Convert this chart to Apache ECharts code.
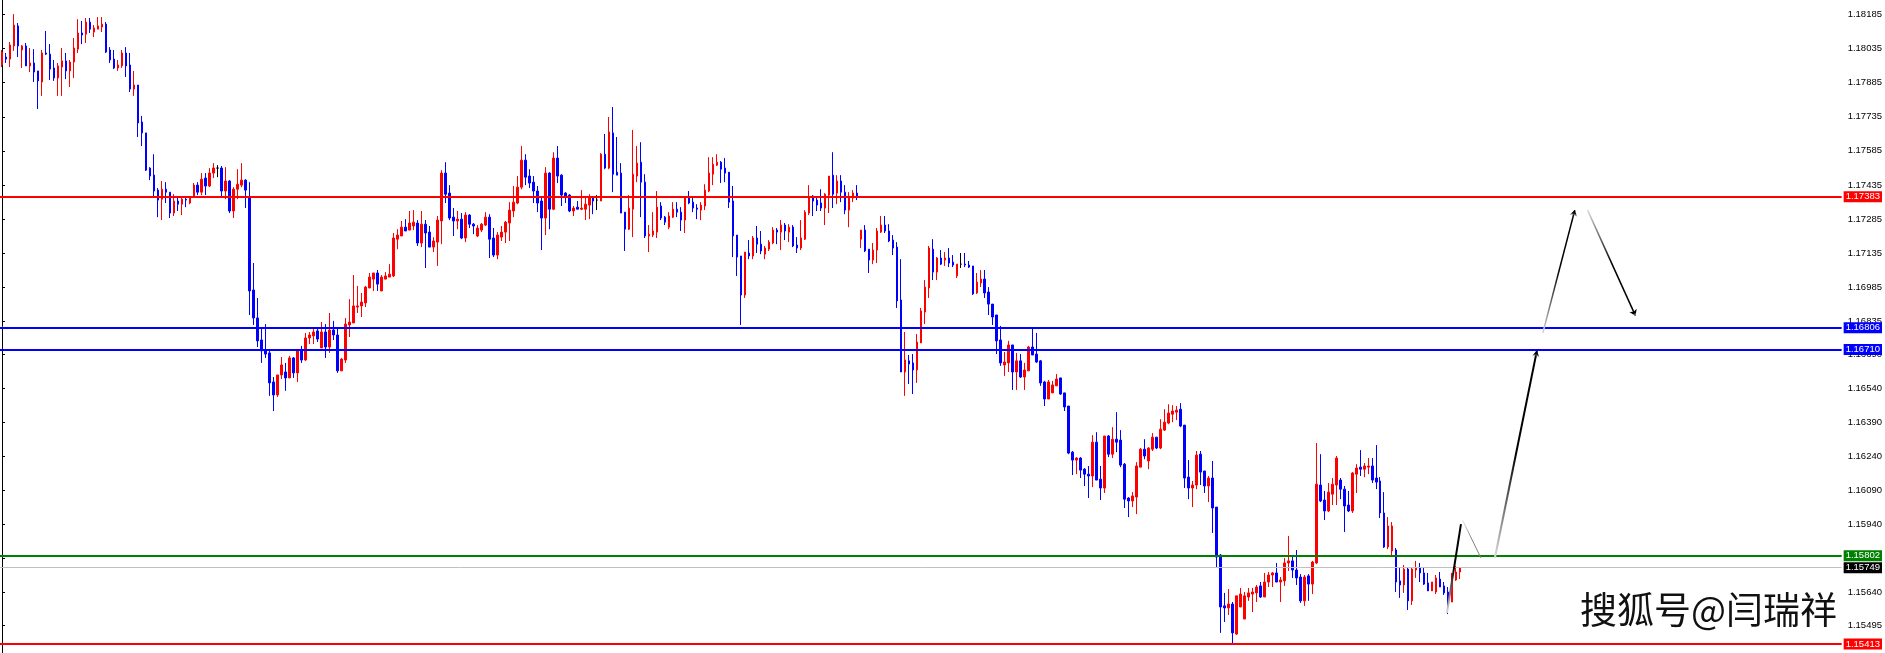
<!DOCTYPE html>
<html>
<head>
<meta charset="utf-8">
<title>EURUSD H1</title>
<script src="https://cdn.jsdelivr.net/npm/echarts@6/dist/echarts.min.js"></script>
<style>
  html, body { margin: 0; padding: 0; background: #fff; }
  #chart { width: 1885px; height: 653px; }
</style>
</head>
<body>
<div id="chart"></div>
<script>
// K线数据
const opens = [
  1.17963, 1.17998, 1.17989, 1.18047, 1.18135, 1.18029, 1.18047, 1.17959, 1.17972, 1.17937,
  1.17888, 1.18016, 1.18011, 1.17950, 1.17906, 1.17954, 1.17981, 1.17937, 1.17976, 1.18033,
  1.18104, 1.18099, 1.18152, 1.18108, 1.18121, 1.18130, 1.18143, 1.18029, 1.17989, 1.17950,
  1.17959, 1.18016, 1.17963, 1.17857, 1.17875, 1.17712, 1.17664, 1.17509, 1.17478, 1.17412,
  1.17372, 1.17416, 1.17403, 1.17311, 1.17364, 1.17350, 1.17372, 1.17355, 1.17381, 1.17434,
  1.17403, 1.17465, 1.17430, 1.17487, 1.17509, 1.17509, 1.17408, 1.17452, 1.17320, 1.17416,
  1.17434, 1.17456, 1.17381, 1.16972, 1.16849, 1.16752, 1.16708, 1.16695, 1.16567, 1.16510,
  1.16598, 1.16611, 1.16585, 1.16673, 1.16607, 1.16704, 1.16664, 1.16761, 1.16770, 1.16792,
  1.16717, 1.16787, 1.16721, 1.16796, 1.16774, 1.16616, 1.16664, 1.16818, 1.16827, 1.16897,
  1.16902, 1.16915, 1.16981, 1.17020, 1.17047, 1.16968, 1.17020, 1.17029, 1.17034, 1.17196,
  1.17210, 1.17249, 1.17236, 1.17254, 1.17267, 1.17179, 1.17262, 1.17227, 1.17161, 1.17183,
  1.17276, 1.17487, 1.17399, 1.17293, 1.17276, 1.17284, 1.17201, 1.17302, 1.17262, 1.17210,
  1.17236, 1.17258, 1.17293, 1.17201, 1.17126, 1.17205, 1.17227, 1.17267, 1.17320, 1.17355,
  1.17425, 1.17544, 1.17474, 1.17447, 1.17408, 1.17364, 1.17289, 1.17487, 1.17328, 1.17553,
  1.17478, 1.17399, 1.17390, 1.17320, 1.17337, 1.17328, 1.17328, 1.17346, 1.17381, 1.17368,
  1.17364, 1.17570, 1.17509, 1.17664, 1.17491, 1.17487, 1.17315, 1.17240, 1.17328, 1.17474,
  1.17535, 1.17447, 1.17210, 1.17214, 1.17227, 1.17342, 1.17293, 1.17249, 1.17293, 1.17328,
  1.17315, 1.17280, 1.17381, 1.17359, 1.17333, 1.17324, 1.17342, 1.17408, 1.17482, 1.17522,
  1.17535, 1.17509, 1.17491, 1.17364, 1.17214, 1.17122, 1.16950, 1.17135, 1.17122, 1.17201,
  1.17174, 1.17130, 1.17152, 1.17179, 1.17236, 1.17227, 1.17258, 1.17227, 1.17249, 1.17170,
  1.17157, 1.17196, 1.17311, 1.17386, 1.17368, 1.17355, 1.17333, 1.17390, 1.17478, 1.17399,
  1.17452, 1.17403, 1.17324, 1.17377, 1.17399, 1.17196, 1.17236, 1.17152, 1.17104, 1.17148,
  1.17227, 1.17258, 1.17232, 1.17192, 1.17161, 1.16928, 1.16611, 1.16660, 1.16651, 1.16620,
  1.16739, 1.16875, 1.16981, 1.17152, 1.17051, 1.17113, 1.17104, 1.17113, 1.17095, 1.17034,
  1.17086, 1.17086, 1.17082, 1.17078, 1.16959, 1.17003, 1.17020, 1.16963, 1.16910, 1.16862,
  1.16752, 1.16642, 1.16651, 1.16730, 1.16611, 1.16660, 1.16589, 1.16616, 1.16721, 1.16690,
  1.16660, 1.16567, 1.16492, 1.16519, 1.16550, 1.16585, 1.16519, 1.16461, 1.16258, 1.16223,
  1.16232, 1.16183, 1.16161, 1.16153, 1.16302, 1.16139, 1.16100, 1.16329, 1.16249, 1.16315,
  1.16311, 1.16205, 1.16056, 1.16043, 1.16060, 1.16192, 1.16271, 1.16219, 1.16271, 1.16324,
  1.16276, 1.16355, 1.16386, 1.16425, 1.16434, 1.16447, 1.16377, 1.16148, 1.16100, 1.16113,
  1.16249, 1.16175, 1.16109, 1.16144, 1.16016, 1.15805, 1.15581, 1.15572, 1.15589, 1.15457,
  1.15576, 1.15523, 1.15620, 1.15633, 1.15638, 1.15669, 1.15620, 1.15686, 1.15717, 1.15726,
  1.15686, 1.15691, 1.15770, 1.15779, 1.15739, 1.15708, 1.15603, 1.15713, 1.15677, 1.15770,
  1.16113, 1.16047, 1.15999, 1.16073, 1.16113, 1.16135, 1.16095, 1.16025, 1.15999, 1.16161,
  1.16192, 1.16183, 1.16192, 1.16197, 1.16144, 1.16131, 1.15990, 1.15840, 1.15823, 1.15827,
  1.15691, 1.15673, 1.15743, 1.15603, 1.15739, 1.15748, 1.15726, 1.15682, 1.15647, 1.15642,
  1.15699, 1.15669, 1.15642, 1.15598, 1.15695, 1.15730
]
const closes = [
  1.18020, 1.17989, 1.18051, 1.18139, 1.18047, 1.18047, 1.17959, 1.17972, 1.17932, 1.17893,
  1.18016, 1.18011, 1.17945, 1.17906, 1.17959, 1.17981, 1.17937, 1.17976, 1.18038, 1.18104,
  1.18095, 1.18152, 1.18121, 1.18126, 1.18135, 1.18143, 1.18020, 1.17985, 1.17950, 1.17963,
  1.18016, 1.17959, 1.17857, 1.17875, 1.17708, 1.17664, 1.17500, 1.17474, 1.17408, 1.17368,
  1.17416, 1.17403, 1.17311, 1.17364, 1.17350, 1.17372, 1.17368, 1.17377, 1.17434, 1.17403,
  1.17460, 1.17430, 1.17487, 1.17509, 1.17509, 1.17408, 1.17452, 1.17320, 1.17416, 1.17438,
  1.17456, 1.17412, 1.16968, 1.16849, 1.16748, 1.16704, 1.16690, 1.16563, 1.16510, 1.16598,
  1.16642, 1.16585, 1.16673, 1.16607, 1.16704, 1.16664, 1.16761, 1.16774, 1.16787, 1.16756,
  1.16787, 1.16721, 1.16796, 1.16774, 1.16616, 1.16668, 1.16822, 1.16831, 1.16902, 1.16902,
  1.16919, 1.16985, 1.17029, 1.17047, 1.16998, 1.17029, 1.17034, 1.17042, 1.17201, 1.17214,
  1.17249, 1.17232, 1.17267, 1.17271, 1.17179, 1.17262, 1.17223, 1.17161, 1.17188, 1.17280,
  1.17487, 1.17394, 1.17289, 1.17276, 1.17284, 1.17201, 1.17302, 1.17262, 1.17254, 1.17245,
  1.17262, 1.17293, 1.17196, 1.17126, 1.17214, 1.17227, 1.17271, 1.17324, 1.17359, 1.17425,
  1.17544, 1.17469, 1.17443, 1.17408, 1.17355, 1.17289, 1.17487, 1.17328, 1.17553, 1.17474,
  1.17390, 1.17386, 1.17320, 1.17333, 1.17328, 1.17333, 1.17350, 1.17381, 1.17364, 1.17368,
  1.17570, 1.17509, 1.17668, 1.17482, 1.17478, 1.17311, 1.17240, 1.17333, 1.17482, 1.17531,
  1.17447, 1.17210, 1.17218, 1.17232, 1.17337, 1.17289, 1.17271, 1.17298, 1.17328, 1.17315,
  1.17280, 1.17381, 1.17355, 1.17333, 1.17328, 1.17346, 1.17412, 1.17487, 1.17526, 1.17535,
  1.17504, 1.17487, 1.17359, 1.17210, 1.17117, 1.16950, 1.17139, 1.17122, 1.17201, 1.17174,
  1.17144, 1.17157, 1.17183, 1.17236, 1.17227, 1.17258, 1.17232, 1.17249, 1.17166, 1.17157,
  1.17201, 1.17315, 1.17381, 1.17364, 1.17346, 1.17333, 1.17394, 1.17474, 1.17394, 1.17452,
  1.17403, 1.17324, 1.17381, 1.17399, 1.17381, 1.17236, 1.17144, 1.17104, 1.17148, 1.17232,
  1.17258, 1.17232, 1.17188, 1.17157, 1.16924, 1.16611, 1.16664, 1.16646, 1.16620, 1.16743,
  1.16880, 1.16985, 1.17157, 1.17051, 1.17113, 1.17086, 1.17113, 1.17091, 1.17082, 1.17086,
  1.17086, 1.17082, 1.17073, 1.16955, 1.17007, 1.17020, 1.16959, 1.16910, 1.16853, 1.16748,
  1.16651, 1.16655, 1.16730, 1.16611, 1.16660, 1.16589, 1.16620, 1.16721, 1.16686, 1.16655,
  1.16563, 1.16492, 1.16567, 1.16554, 1.16580, 1.16514, 1.16457, 1.16254, 1.16223, 1.16232,
  1.16179, 1.16161, 1.16153, 1.16302, 1.16135, 1.16100, 1.16329, 1.16249, 1.16315, 1.16302,
  1.16201, 1.16051, 1.16043, 1.16065, 1.16197, 1.16271, 1.16241, 1.16276, 1.16324, 1.16276,
  1.16359, 1.16390, 1.16430, 1.16439, 1.16443, 1.16373, 1.16144, 1.16100, 1.16113, 1.16245,
  1.16170, 1.16109, 1.16144, 1.16012, 1.15796, 1.15576, 1.15572, 1.15589, 1.15462, 1.15625,
  1.15633, 1.15625, 1.15638, 1.15642, 1.15664, 1.15620, 1.15686, 1.15717, 1.15726, 1.15686,
  1.15695, 1.15770, 1.15779, 1.15739, 1.15704, 1.15603, 1.15708, 1.15677, 1.15774, 1.16117,
  1.16043, 1.15999, 1.16082, 1.16117, 1.16232, 1.16095, 1.16021, 1.15999, 1.16166, 1.16188,
  1.16183, 1.16197, 1.16197, 1.16135, 1.16126, 1.15990, 1.15840, 1.15933, 1.15933, 1.15686,
  1.15673, 1.15743, 1.15603, 1.15743, 1.15748, 1.15726, 1.15677, 1.15647, 1.15686, 1.15704,
  1.15664, 1.15638, 1.15598, 1.15721, 1.15730, 1.15748
]
const lows = [
  1.17954, 1.17972, 1.17954, 1.18025, 1.17998, 1.17950, 1.17959, 1.17932, 1.17888, 1.17769,
  1.17827, 1.18007, 1.17897, 1.17893, 1.17827, 1.17827, 1.17901, 1.17866, 1.17906, 1.18016,
  1.18055, 1.18060, 1.18104, 1.18086, 1.18121, 1.18108, 1.18016, 1.17972, 1.17945, 1.17937,
  1.17950, 1.17910, 1.17844, 1.17827, 1.17646, 1.17606, 1.17496, 1.17456, 1.17381, 1.17293,
  1.17280, 1.17355, 1.17289, 1.17298, 1.17320, 1.17302, 1.17337, 1.17350, 1.17381, 1.17390,
  1.17390, 1.17390, 1.17425, 1.17465, 1.17469, 1.17381, 1.17372, 1.17311, 1.17289, 1.17372,
  1.17425, 1.17333, 1.16862, 1.16818, 1.16721, 1.16651, 1.16673, 1.16506, 1.16439, 1.16501,
  1.16580, 1.16528, 1.16585, 1.16585, 1.16567, 1.16651, 1.16660, 1.16734, 1.16734, 1.16743,
  1.16717, 1.16673, 1.16695, 1.16752, 1.16607, 1.16616, 1.16651, 1.16765, 1.16827, 1.16871,
  1.16853, 1.16897, 1.16981, 1.16968, 1.16968, 1.16968, 1.17020, 1.17029, 1.17029, 1.17152,
  1.17210, 1.17232, 1.17236, 1.17236, 1.17166, 1.17161, 1.17069, 1.17161, 1.17139, 1.17078,
  1.17174, 1.17355, 1.17280, 1.17210, 1.17240, 1.17196, 1.17183, 1.17245, 1.17218, 1.17205,
  1.17227, 1.17254, 1.17113, 1.17117, 1.17108, 1.17188, 1.17179, 1.17188, 1.17293, 1.17350,
  1.17416, 1.17434, 1.17421, 1.17355, 1.17315, 1.17148, 1.17214, 1.17240, 1.17324, 1.17443,
  1.17342, 1.17355, 1.17315, 1.17298, 1.17328, 1.17324, 1.17280, 1.17284, 1.17306, 1.17324,
  1.17364, 1.17504, 1.17504, 1.17403, 1.17478, 1.17311, 1.17144, 1.17236, 1.17205, 1.17447,
  1.17293, 1.17201, 1.17139, 1.17205, 1.17201, 1.17280, 1.17258, 1.17240, 1.17289, 1.17293,
  1.17232, 1.17223, 1.17350, 1.17315, 1.17284, 1.17280, 1.17324, 1.17403, 1.17434, 1.17518,
  1.17443, 1.17447, 1.17333, 1.17117, 1.17034, 1.16818, 1.16937, 1.17108, 1.17108, 1.17135,
  1.17130, 1.17108, 1.17144, 1.17174, 1.17174, 1.17148, 1.17192, 1.17183, 1.17161, 1.17135,
  1.17148, 1.17192, 1.17302, 1.17298, 1.17320, 1.17320, 1.17258, 1.17311, 1.17333, 1.17350,
  1.17359, 1.17306, 1.17249, 1.17359, 1.17368, 1.17157, 1.17139, 1.17047, 1.17086, 1.17091,
  1.17223, 1.17223, 1.17183, 1.17126, 1.16893, 1.16611, 1.16506, 1.16558, 1.16514, 1.16563,
  1.16739, 1.16822, 1.16937, 1.17016, 1.17016, 1.17082, 1.17078, 1.17073, 1.17073, 1.17025,
  1.17069, 1.17073, 1.17069, 1.16950, 1.16955, 1.16985, 1.16937, 1.16862, 1.16818, 1.16690,
  1.16638, 1.16594, 1.16611, 1.16532, 1.16532, 1.16585, 1.16532, 1.16616, 1.16686, 1.16651,
  1.16550, 1.16461, 1.16492, 1.16519, 1.16550, 1.16510, 1.16439, 1.16249, 1.16157, 1.16161,
  1.16144, 1.16109, 1.16056, 1.16104, 1.16135, 1.16047, 1.16078, 1.16236, 1.16232, 1.16258,
  1.16192, 1.16012, 1.15972, 1.16016, 1.15985, 1.16192, 1.16227, 1.16183, 1.16263, 1.16271,
  1.16271, 1.16351, 1.16381, 1.16390, 1.16399, 1.16368, 1.16100, 1.16051, 1.16016, 1.16095,
  1.16113, 1.16078, 1.16038, 1.15902, 1.15752, 1.15462, 1.15510, 1.15541, 1.15417, 1.15453,
  1.15576, 1.15523, 1.15603, 1.15554, 1.15598, 1.15616, 1.15620, 1.15664, 1.15664, 1.15686,
  1.15598, 1.15669, 1.15735, 1.15704, 1.15673, 1.15594, 1.15581, 1.15603, 1.15633, 1.15765,
  1.16038, 1.15959, 1.15994, 1.16025, 1.16025, 1.16051, 1.15906, 1.15994, 1.15990, 1.16078,
  1.16153, 1.16148, 1.16161, 1.16122, 1.16095, 1.15968, 1.15836, 1.15831, 1.15805, 1.15642,
  1.15616, 1.15638, 1.15563, 1.15585, 1.15704, 1.15686, 1.15673, 1.15647, 1.15647, 1.15633,
  1.15664, 1.15629, 1.15545, 1.15598, 1.15691, 1.15699
]
const highs = [
  1.18029, 1.18016, 1.18064, 1.18187, 1.18148, 1.18051, 1.18060, 1.18038, 1.18033, 1.17937,
  1.18029, 1.18113, 1.18055, 1.17985, 1.17972, 1.18038, 1.18016, 1.17985, 1.18082, 1.18165,
  1.18157, 1.18170, 1.18170, 1.18139, 1.18174, 1.18174, 1.18152, 1.18042, 1.18029, 1.17985,
  1.18029, 1.18042, 1.18016, 1.17937, 1.17875, 1.17739, 1.17664, 1.17513, 1.17570, 1.17421,
  1.17452, 1.17447, 1.17403, 1.17394, 1.17381, 1.17381, 1.17381, 1.17381, 1.17443, 1.17447,
  1.17487, 1.17487, 1.17509, 1.17531, 1.17522, 1.17518, 1.17513, 1.17456, 1.17425, 1.17504,
  1.17531, 1.17460, 1.17447, 1.17091, 1.16937, 1.16805, 1.16822, 1.16708, 1.16589, 1.16598,
  1.16677, 1.16651, 1.16682, 1.16677, 1.16704, 1.16726, 1.16783, 1.16787, 1.16800, 1.16805,
  1.16831, 1.16822, 1.16871, 1.16836, 1.16805, 1.16673, 1.16849, 1.16932, 1.17038, 1.16990,
  1.16959, 1.16990, 1.17047, 1.17047, 1.17060, 1.17038, 1.17051, 1.17086, 1.17223, 1.17240,
  1.17276, 1.17284, 1.17320, 1.17324, 1.17280, 1.17320, 1.17280, 1.17254, 1.17205, 1.17298,
  1.17500, 1.17535, 1.17434, 1.17333, 1.17320, 1.17311, 1.17315, 1.17306, 1.17267, 1.17258,
  1.17267, 1.17315, 1.17306, 1.17245, 1.17227, 1.17254, 1.17276, 1.17359, 1.17430, 1.17474,
  1.17606, 1.17570, 1.17504, 1.17474, 1.17430, 1.17381, 1.17513, 1.17491, 1.17579, 1.17606,
  1.17482, 1.17403, 1.17394, 1.17342, 1.17364, 1.17412, 1.17386, 1.17394, 1.17386, 1.17390,
  1.17575, 1.17659, 1.17734, 1.17778, 1.17646, 1.17531, 1.17315, 1.17390, 1.17677, 1.17606,
  1.17623, 1.17482, 1.17258, 1.17315, 1.17408, 1.17359, 1.17298, 1.17315, 1.17359, 1.17359,
  1.17337, 1.17386, 1.17408, 1.17377, 1.17350, 1.17359, 1.17438, 1.17557, 1.17557, 1.17570,
  1.17540, 1.17553, 1.17491, 1.17430, 1.17214, 1.17122, 1.17139, 1.17192, 1.17210, 1.17254,
  1.17232, 1.17166, 1.17192, 1.17249, 1.17245, 1.17280, 1.17267, 1.17262, 1.17258, 1.17205,
  1.17280, 1.17324, 1.17434, 1.17390, 1.17381, 1.17416, 1.17399, 1.17474, 1.17579, 1.17478,
  1.17478, 1.17434, 1.17403, 1.17412, 1.17434, 1.17236, 1.17258, 1.17152, 1.17179, 1.17245,
  1.17298, 1.17298, 1.17262, 1.17214, 1.17183, 1.17108, 1.16787, 1.16686, 1.16690, 1.16778,
  1.16893, 1.17016, 1.17166, 1.17196, 1.17117, 1.17148, 1.17139, 1.17157, 1.17126, 1.17086,
  1.17135, 1.17135, 1.17100, 1.17078, 1.17047, 1.17060, 1.17060, 1.16985, 1.16910, 1.16862,
  1.16814, 1.16699, 1.16748, 1.16730, 1.16695, 1.16690, 1.16651, 1.16726, 1.16805, 1.16783,
  1.16664, 1.16572, 1.16576, 1.16572, 1.16602, 1.16585, 1.16519, 1.16461, 1.16263, 1.16236,
  1.16236, 1.16188, 1.16197, 1.16333, 1.16346, 1.16197, 1.16329, 1.16333, 1.16368, 1.16434,
  1.16355, 1.16210, 1.16060, 1.16082, 1.16214, 1.16276, 1.16315, 1.16280, 1.16342, 1.16324,
  1.16403, 1.16447, 1.16469, 1.16465, 1.16461, 1.16474, 1.16377, 1.16223, 1.16131, 1.16263,
  1.16263, 1.16175, 1.16153, 1.16219, 1.16016, 1.15809, 1.15638, 1.15655, 1.15598, 1.15625,
  1.15660, 1.15642, 1.15660, 1.15660, 1.15673, 1.15686, 1.15726, 1.15730, 1.15730, 1.15770,
  1.15708, 1.15792, 1.15889, 1.15796, 1.15827, 1.15721, 1.15717, 1.15721, 1.15779, 1.16298,
  1.16249, 1.16087, 1.16122, 1.16144, 1.16241, 1.16144, 1.16109, 1.16087, 1.16170, 1.16205,
  1.16267, 1.16210, 1.16232, 1.16232, 1.16289, 1.16148, 1.16082, 1.15972, 1.15950, 1.15836,
  1.15752, 1.15761, 1.15748, 1.15748, 1.15779, 1.15770, 1.15748, 1.15726, 1.15686, 1.15717,
  1.15730, 1.15686, 1.15664, 1.15726, 1.15757, 1.15752
]

// 右侧价格刻度
const priceTicks = [
  1.18185, 1.18035, 1.17885, 1.17735, 1.17585, 1.17435, 1.17285, 1.17135, 1.16985, 1.16835,
  1.16690, 1.16540, 1.16390, 1.16240, 1.16090, 1.15940, 1.15790, 1.15640, 1.15495
]

// 水平线价位（阻力/支撑，1.15749 是当前价）
const levelPrices = [1.17383, 1.16806, 1.16710, 1.15802, 1.15749, 1.15413]

// 手绘箭头：起点、终点 [K线序号, 价格]
const arrowFrom = [[361.7, 1.15550], [365.6, 1.15959], [373.7, 1.15792], [385.7, 1.16783], [396.9, 1.17324]]
const arrowTo = [[365.2, 1.15941], [370.2, 1.15792], [384.2, 1.16704], [393.7, 1.17324], [408.9, 1.16858]]

const slotCount = 461
const slots = Array.from({ length: slotCount }, (_, i) => String(i))

const lineColors = ['#ff0000', '#0000ff', '#0000ff', '#008000', '#c0c0c0', '#ff0000']
const lineWidths = [2, 2, 2, 2, 1, 2]
const tagColors = ['#ff0000', '#0000ff', '#0000ff', '#008000', '#000000', '#ff0000']

const arrowWidths = [2, 1, 2, 1.5, 1.5]
const arrowHeads = [false, false, true, true, true]
const arrowShades = [
  ['#e6e6e6', '#000000'],
  ['#f2f2f2', '#808080'],
  ['#e0e0e0', '#000000'],
  ['#e0e0e0', '#000000'],
  ['#e6e6e6', '#000000']
]

function arrowItem (i) {
  const up = arrowTo[i][1] > arrowFrom[i][1]
  const stops = [
    { offset: 0, color: arrowShades[i][0] },
    { offset: 0.5, color: arrowShades[i][1] },
    { offset: 1, color: arrowShades[i][1] }
  ]
  // 渐变方向：从起点（浅）到终点（深）
  const grad = up
    ? new echarts.graphic.LinearGradient(0, 1, 0, 0, stops)
    : new echarts.graphic.LinearGradient(0, 0, 0, 1, stops)
  return {
    coords: [arrowFrom[i], arrowTo[i]],
    lineStyle: { color: grad, width: arrowWidths[i], opacity: 1, curveness: 0 }
  }
}

const plainArrows = []
const headArrows = []
arrowFrom.forEach((_, i) => {
  if (arrowHeads[i]) headArrows.push(arrowItem(i))
  else plainArrows.push(arrowItem(i))
})

const chart = echarts.init(document.getElementById('chart'))

chart.setOption({
  animation: false,
  backgroundColor: '#ffffff',
  grid: { left: -2, right: 42, top: 0, bottom: 0 },
  xAxis: [
    { type: 'category', data: slots, show: false, boundaryGap: true },
    { type: 'value', min: -0.5, max: slotCount - 0.5, show: false }
  ],
  yAxis: {
    type: 'value',
    position: 'right',
    min: 1.153734,
    max: 1.182493,
    axisLine: { show: true, lineStyle: { color: '#000', width: 1 } },
    axisTick: {
      show: true,
      length: 3,
      customValues: priceTicks,
      lineStyle: { color: '#000' }
    },
    axisLabel: {
      customValues: priceTicks,
      margin: 6,
      color: '#000',
      fontSize: 9.5,
      fontFamily: 'Liberation Sans',
      formatter: v => v.toFixed(5)
    },
    splitLine: { show: false }
  },
  graphic: [
    {
      type: 'text',
      left: 1580,
      top: 591,
      silent: true,
      style: {
        text: '搜狐号@闫瑞祥',
        fill: '#111',
        font: '37px "Noto Sans CJK SC"'
      }
    }
  ],
  series: [
    {
      type: 'candlestick',
      data: opens.map((o, i) => [o, closes[i], lows[i], highs[i]]),
      barWidth: 2,
      itemStyle: {
        color: '#ff0000',
        color0: '#0000ff',
        borderColor: '#ff0000',
        borderColor0: '#0000ff',
        borderColorDoji: '#000000',
        borderWidth: 1
      },
      markLine: {
        silent: true,
        symbol: 'none',
        precision: 5,
        animation: false,
        label: {
          position: 'end',
          distance: 2,
          color: '#fff',
          fontSize: 9.5,
          fontFamily: 'Liberation Sans',
          lineHeight: 10,
          padding: [1, 2, 0, 2],
          formatter: p => Number(p.value).toFixed(5)
        },
        data: levelPrices.map((p, i) => ({
          yAxis: p,
          lineStyle: { color: lineColors[i], width: lineWidths[i], type: 'solid' },
          label: { backgroundColor: tagColors[i] }
        }))
      }
    },
    {
      type: 'lines',
      coordinateSystem: 'cartesian2d',
      xAxisIndex: 1,
      yAxisIndex: 0,
      silent: true,
      z: 6,
      symbol: ['none', 'none'],
      data: plainArrows
    },
    {
      type: 'lines',
      coordinateSystem: 'cartesian2d',
      xAxisIndex: 1,
      yAxisIndex: 0,
      silent: true,
      z: 6,
      symbol: ['none', 'arrow'],
      symbolSize: 6,
      data: headArrows
    }
  ]
})
</script>
</body>
</html>
